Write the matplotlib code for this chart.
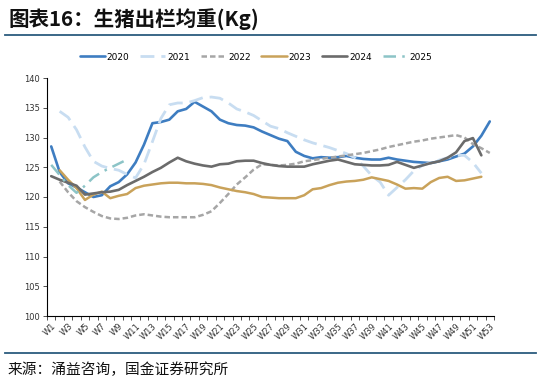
import numpy as np
import matplotlib
matplotlib.use('Agg')
import matplotlib.pyplot as plt
from matplotlib.lines import Line2D

plt.rcParams['font.family'] = ['Noto Sans CJK SC', 'DejaVu Sans']

weeks = ['W%d' % i for i in range(1, 54)]
N = None

y2020 = [128.5, 124.2, 122.3, 121.6, 120.8, 120.0, 120.3, 121.8, 122.5, 123.8,
         125.8, 128.8, 132.4, 132.6, 133.0, 134.4, 134.8, 136.0, 135.2, 134.4,
         133.0, 132.4, 132.1, 132.0, 131.7, 131.0, 130.4, 129.8, 129.4, 127.6,
         126.9, 126.5, 126.7, 126.6, 126.7, 126.9, 126.6, 126.4, 126.3, 126.3,
         126.6, 126.3, 126.1, 125.9, 125.8, 125.7, 126.0, 126.3, 126.8, 127.3,
         128.5, 130.3, 132.7]
y2021 = [N, 134.4, 133.4, 131.3, 128.4, 126.0, 125.2, 124.8, 124.5, 123.8,
         123.2, 125.5, 129.3, 133.2, 135.5, 135.8, 135.8, 136.2, 136.7, 136.8,
         136.6, 135.8, 134.8, 134.3, 133.7, 132.8, 131.9, 131.5, 130.8, 130.2,
         129.6, 129.1, 128.7, 128.3, 127.8, 127.3, 126.6, 125.2, 123.6, 122.5,
         120.3, 121.6, 122.9, 124.4, 125.3, 125.8, 126.2, 126.6, 127.0, 127.0,
         125.8, 124.0, N]
y2022 = [N, 122.6, 120.8, 119.3, 118.3, 117.5, 116.8, 116.4, 116.3, 116.5,
         116.9, 117.1, 116.9, 116.7, 116.6, 116.6, 116.6, 116.6, 117.0, 117.6,
         119.0, 120.5, 122.1, 123.3, 124.6, 125.5, 125.4, 125.3, 125.4, 125.6,
         126.0, 126.2, 126.4, 126.6, 126.8, 127.0, 127.2, 127.4, 127.7, 128.0,
         128.4, 128.7, 129.0, 129.3, 129.5, 129.8, 130.0, 130.2, 130.4, 130.0,
         128.9, 128.2, 127.4]
y2023 = [N, 124.5, 122.9, 121.5, 119.5, 120.4, 120.9, 119.8, 120.2, 120.5,
         121.5, 121.9, 122.1, 122.3, 122.4, 122.4, 122.3, 122.3, 122.2, 122.0,
         121.6, 121.3, 121.0, 120.8, 120.5, 120.0, 119.9, 119.8, 119.8, 119.8,
         120.3, 121.3, 121.5, 122.0, 122.4, 122.6, 122.7, 122.9, 123.3, 123.0,
         122.7, 122.1, 121.4, 121.5, 121.4, 122.5, 123.2, 123.4, 122.7, 122.8,
         123.1, 123.4, N]
y2024 = [123.5, 122.9, 122.4, 121.9, 120.4, 120.6, 120.8, 120.9, 121.2, 122.0,
         122.7, 123.4, 124.2, 124.9, 125.8, 126.6, 126.0, 125.6, 125.3, 125.1,
         125.5, 125.6, 126.0, 126.1, 126.1, 125.7, 125.4, 125.2, 125.1, 125.1,
         125.1, 125.5, 125.8, 126.1, 126.3, 125.9, 125.5, 125.4, 125.3, 125.3,
         125.4, 125.9, 125.4, 124.9, 125.3, 125.7, 126.0, 126.6, 127.5, 129.4,
         129.9, 127.0, N]
y2025 = [125.4, 123.7, 122.0, 120.7, 121.9, 123.3, 124.2, 124.9, 125.6, 126.3]

series = [
    ('2020', y2020, '#3e7dc1', 1.9, '-'),
    ('2021', y2021, '#c8ddf1', 2.0, (0, (5, 2.5))),
    ('2022', y2022, '#a6a6a6', 1.8, (0, (2.2, 1.2))),
    ('2023', y2023, '#c9a25a', 1.8, '-'),
    ('2024', y2024, '#6b6b6b', 1.9, '-'),
    ('2025', y2025, '#8cc4c7', 1.8, (0, (5, 2.5, 1, 2.5))),
]

fig = plt.figure(figsize=(5.41, 3.85), dpi=100)
ax = fig.add_axes([47 / 541, 1 - 316 / 385, 447 / 541, 238 / 385])

for name, vals, color, lw, ls in series:
    v = np.array([np.nan if a is None else a for a in vals], dtype=float)
    x = np.arange(1, len(v) + 1)
    ax.plot(x, v, color=color, lw=lw, linestyle=ls, label=name,
            solid_capstyle='round', dash_capstyle='butt')

ax.set_xlim(0.5, 53.5)
ax.set_ylim(100, 140)
ax.set_yticks(np.arange(100, 141, 5))
ax.tick_params(axis='y', labelsize=6, length=3, width=0.6, pad=2, colors='#333333')
ax.set_xticks(np.arange(1, 54, 2))
ax.set_xticklabels(weeks[::2], rotation=45, ha='right', rotation_mode='anchor', fontsize=6,
                   family='DejaVu Sans')
ax.set_xticks(np.arange(0.5, 54, 1), minor=True)
ax.tick_params(axis='x', which='major', length=0, pad=4, colors='#333333')
ax.tick_params(axis='x', which='minor', length=3, width=0.6, color='#333333')
for lab in ax.get_yticklabels():
    lab.set_family('DejaVu Sans')
ax.spines['top'].set_visible(False)
ax.spines['right'].set_visible(False)
ax.spines['left'].set_linewidth(0.8)
ax.spines['bottom'].set_linewidth(0.8)

handles, labels = ax.get_legend_handles_labels()
fig.legend(handles, labels, loc='center', bbox_to_anchor=(256 / 541, 1 - 57 / 385), ncol=6,
           frameon=False, handlelength=2.8, handletextpad=0.2,
           columnspacing=1.2, prop={'family': 'DejaVu Sans', 'size': 6.5})

fig.text(8 / 541, 1 - 20 / 385, '图表16：生猪出栏均重(Kg)', fontsize=14.8, fontweight='bold',
         va='center', ha='left', color='#111111')
fig.add_artist(Line2D([5 / 541, 536 / 541], [1 - 34.5 / 385] * 2, color='#2b5c7e', lw=1.3))
fig.add_artist(Line2D([5 / 541, 536 / 541], [1 - 353 / 385] * 2, color='#2b5c7e', lw=1.3))
fig.text(8 / 541, 1 - 370 / 385, '来源：涌益咨询，国金证券研究所', fontsize=10.6, va='center', ha='left',
         color='#111111')

fig.savefig('out.png', dpi=100)
